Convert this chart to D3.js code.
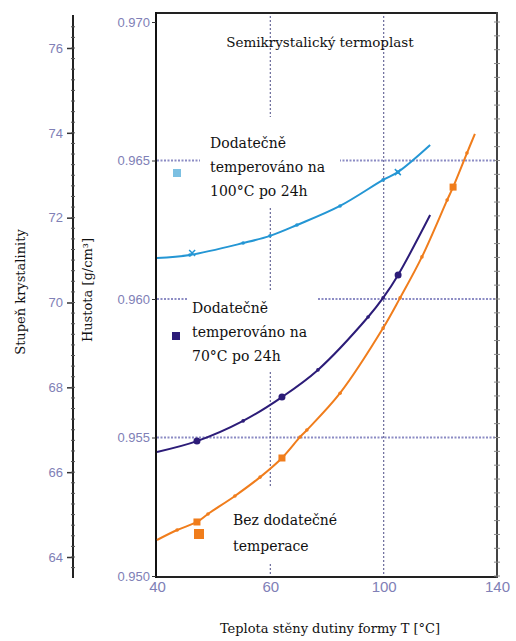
<!DOCTYPE html>
<html><head><meta charset="utf-8">
<script src="https://cdn.jsdelivr.net/npm/d3@7"></script>
<style>body{margin:0;background:#fff}svg{display:block}</style>
</head><body><svg id="c" width="516" height="641"></svg>
<script>
// ---- data ----
const xTickValues = [20, 60, 100, 140];
const xTickLabels = ["40", "60", "100", "140"];
const yTickValues = [0.950, 0.955, 0.960, 0.965, 0.970];
const yTickLabels = ["0.950", "0.955", "0.960", "0.965", "0.970"];
const crystTickValues = [64, 66, 68, 70, 72, 74, 76];
const gridX = [60, 100];
const gridY = [0.955, 0.960, 0.965];

const t100   = [20, 31.6, 50.4, 59.9, 69.4, 84.6, 99.8, 105, 116.4];
const rho100 = [0.96148, 0.96159, 0.96202, 0.96228, 0.96267, 0.96336, 0.96430, 0.96458, 0.96556];
const t70    = [20, 34.1, 50.4, 64.1, 76.8, 94.5, 99.8, 105.1, 116.4];
const rho70  = [0.95448, 0.95487, 0.95560, 0.95646, 0.95744, 0.95935, 0.96004, 0.96087, 0.96303];
const tNone  = [20, 27.1, 34.1, 38.0, 47.5, 56.4, 64.1, 70.5, 72.9, 84.6, 99.8, 105.8, 113.5, 122.4, 124.5, 129.4, 132.2];
const rhoNone= [0.95130, 0.95166, 0.95195, 0.95224, 0.95289, 0.95357, 0.95426, 0.95502, 0.95527, 0.95660, 0.95895, 0.96004, 0.96152, 0.96357, 0.96404, 0.96527, 0.96596];

const mk100T = [32.4, 105], mk100R = [0.96166, 0.96458];
const mk70T = [34.1, 64.1, 105.1], mk70R = [0.95487, 0.95646, 0.96087];
const mkNoneT = [34.1, 64.1, 124.5], mkNoneR = [0.95195, 0.95426, 0.96404];

const seriesNames = ["Dodatečně|temperováno na|100°C po 24h", "Dodatečně|temperováno na|70°C po 24h", "Bez dodatečné|temperace"];
const colors = ["#2496d4", "#2c1c78", "#f07d1c"];
const legendColors = ["#7cc0e2", "#2c1c78", "#f07d1c"];

// ---- drawing ----
const svg = d3.select("#c");
const x = d3.scaleLinear().domain([20, 140]).range([157, 497]);
const y = d3.scaleLinear().domain([0.950, 0.970]).range([576, 22]);
const yc = d3.scaleLinear().domain([64, 76]).range([557, 48]);
const serif = "'DejaVu Serif', 'Liberation Serif', serif";
const sans = "'Liberation Sans', Arial, sans-serif";
const tickCol = "#8080b6";
const gridCol = "#8c8cc4";

// gridlines
svg.selectAll(".gy").data(gridY).enter().append("line")
  .attr("x1", x(20)).attr("x2", x(140)).attr("y1", d => y(d)).attr("y2", d => y(d))
  .attr("stroke", gridCol).attr("stroke-width", 2).attr("stroke-dasharray", "2,1.5");
svg.selectAll(".gx").data(gridX).enter().append("line")
  .attr("x1", d => x(d)).attr("x2", d => x(d)).attr("y1", 12).attr("y2", 577)
  .attr("stroke", "#6a6a9a").attr("stroke-width", 1.2).attr("stroke-dasharray", "2,2");

// white boxes behind annotation texts
const boxes = [[200, 117, 140, 90], [187, 290, 130, 80], [225, 487, 125, 76]];
svg.selectAll(".bx").data(boxes).enter().append("rect")
  .attr("x", d => d[0]).attr("y", d => d[1]).attr("width", d => d[2]).attr("height", d => d[3])
  .attr("fill", "#fff");

// frame
svg.append("line").attr("x1", 156).attr("x2", 498).attr("y1", 13).attr("y2", 13).attr("stroke", "#222").attr("stroke-width", 2);
svg.append("line").attr("x1", 156).attr("x2", 498).attr("y1", 577).attr("y2", 577).attr("stroke", "#222").attr("stroke-width", 2);
svg.append("line").attr("x1", 156).attr("x2", 156).attr("y1", 12).attr("y2", 578).attr("stroke", "#111").attr("stroke-width", 2);
svg.append("line").attr("x1", 497).attr("x2", 497).attr("y1", 12).attr("y2", 578).attr("stroke", "#444").attr("stroke-width", 2);

// right edge minor ticks
const minorY = d3.range(0, 41).map(i => 0.950 + i * 0.0005);
svg.selectAll(".mr").data(minorY).enter().append("line")
  .attr("x1", 494).attr("x2", 500).attr("y1", d => y(d)).attr("y2", d => y(d))
  .attr("stroke", "#888").attr("stroke-width", 1);

// left density axis
const yAxis = d3.axisLeft(y).tickValues(yTickValues).tickFormat((d, i) => yTickLabels[i]).tickSize(4).tickPadding(2);
const gy = svg.append("g").attr("transform", "translate(156,0)").call(yAxis);
gy.select(".domain").remove();
gy.selectAll(".tick line").attr("stroke", "#333");
gy.selectAll("text").attr("fill", tickCol).attr("font-family", sans).attr("font-size", 13);

// bottom axis labels
const xAxis = d3.axisBottom(x).tickValues(xTickValues).tickFormat((d, i) => xTickLabels[i]).tickSize(0).tickPadding(4);
const gx = svg.append("g").attr("transform", "translate(0,577)").call(xAxis);
gx.select(".domain").remove();
gx.selectAll("text").attr("fill", tickCol).attr("font-family", sans).attr("font-size", 15);

// crystallinity axis
const cAxis = d3.axisLeft(yc).tickValues(crystTickValues).tickSize(6).tickPadding(4);
const gc = svg.append("g").attr("transform", "translate(73,0)").call(cAxis);
gc.select(".domain").remove();
gc.selectAll(".tick line").attr("stroke", "#333").attr("stroke-width", 1.5);
gc.selectAll("text").attr("fill", tickCol).attr("font-family", sans).attr("font-size", 13);
svg.append("line").attr("x1", 73).attr("x2", 73).attr("y1", 15).attr("y2", 578).attr("stroke", "#222").attr("stroke-width", 2);
const minorC = d3.range(0, 53).map(i => 63.5 + i * 0.25).filter(v => yc(v) > 16 && yc(v) < 577);
svg.selectAll(".mc").data(minorC).enter().append("line")
  .attr("x1", 71).attr("x2", 75).attr("y1", d => yc(d)).attr("y2", d => yc(d))
  .attr("stroke", "#555").attr("stroke-width", 1);

// axis titles
svg.append("text").attr("transform", "translate(25,292) rotate(-90)").attr("text-anchor", "middle")
  .attr("font-family", serif).attr("font-size", 13).attr("fill", "#111").text("Stupeň krystalinity");
svg.append("text").attr("transform", "translate(92,290) rotate(-90)").attr("text-anchor", "middle")
  .attr("font-family", serif).attr("font-size", 13).attr("fill", "#111").text("Hustota [g/cm³]");
svg.append("text").attr("x", 330).attr("y", 633).attr("text-anchor", "middle")
  .attr("font-family", serif).attr("font-size", 13).attr("fill", "#111").text("Teplota stěny dutiny formy T [°C]");
svg.append("text").attr("x", 320).attr("y", 47).attr("text-anchor", "middle")
  .attr("font-family", serif).attr("font-size", 13.5).attr("fill", "#111").text("Semikrystalický termoplast");

// annotation texts + legend squares
const annos = [
  {name: seriesNames[0], x: 210, y: 148, sx: 177, sy: 173, s: 8},
  {name: seriesNames[1], x: 192, y: 313, sx: 176, sy: 336, s: 8},
  {name: seriesNames[2], x: 233, y: 525, sx: 199, sy: 534, s: 10}
];
annos.forEach((a, i) => {
  const t = svg.append("text").attr("font-family", serif).attr("font-size", 14).attr("fill", "#111");
  a.name.split("|").forEach((ln, j) => {
    t.append("tspan").attr("x", a.x).attr("y", a.y + j * (i === 2 ? 26 : 24)).text(ln);
  });
  svg.append("rect").attr("x", a.sx - a.s / 2).attr("y", a.sy - a.s / 2).attr("width", a.s).attr("height", a.s)
    .attr("fill", legendColors[i]);
});

// curves
const line = d3.line().x(d => x(d[0])).y(d => y(d[1])).curve(d3.curveCatmullRom.alpha(0.5));
const series = [
  {t: t100, r: rho100, mt: mk100T, mr: mk100R, c: colors[0], mark: "x"},
  {t: t70, r: rho70, mt: mk70T, mr: mk70R, c: colors[1], mark: "circle"},
  {t: tNone, r: rhoNone, mt: mkNoneT, mr: mkNoneR, c: colors[2], mark: "square"}
];
series.forEach(s => {
  const pts = s.t.map((v, i) => [v, s.r[i]]);
  svg.append("path").attr("d", line(pts)).attr("fill", "none").attr("stroke", s.c).attr("stroke-width", 2);
  svg.selectAll(null).data(pts.slice(1, -1)).enter().append("circle")
    .attr("cx", d => x(d[0])).attr("cy", d => y(d[1])).attr("r", 1.8).attr("fill", s.c);
  const mks = s.mt.map((v, i) => [v, s.mr[i]]);
  mks.forEach(d => {
    const cx = x(d[0]), cy = y(d[1]);
    if (s.mark === "x") {
      svg.append("path").attr("d", `M${cx-3},${cy-3}L${cx+3},${cy+3}M${cx-3},${cy+3}L${cx+3},${cy-3}`)
        .attr("stroke", s.c).attr("stroke-width", 1.5);
    } else if (s.mark === "circle") {
      svg.append("circle").attr("cx", cx).attr("cy", cy).attr("r", 3.5).attr("fill", s.c);
    } else {
      svg.append("rect").attr("x", cx - 3.5).attr("y", cy - 3.5).attr("width", 7).attr("height", 7).attr("fill", s.c);
    }
  });
});
</script></body></html>
